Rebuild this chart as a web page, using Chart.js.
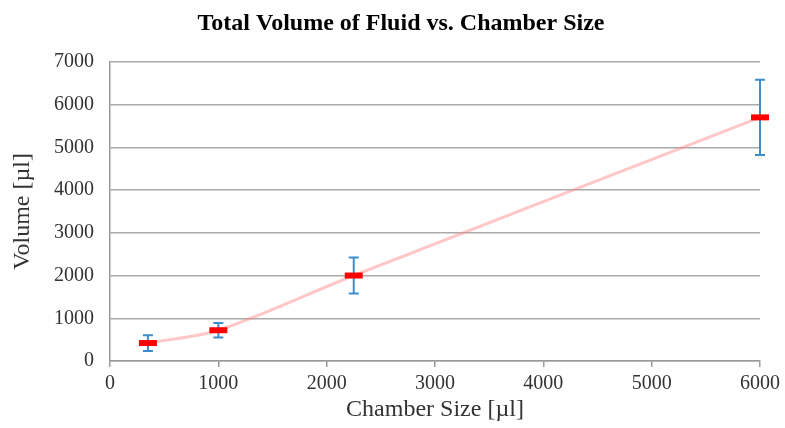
<!DOCTYPE html>
<html><head><meta charset="utf-8">
<script src="https://cdn.jsdelivr.net/npm/chart.js@4"></script>
<style>html,body{margin:0;padding:0;background:#fff}#wrap{width:785px;height:428px}</style>
</head><body><div id="wrap"><canvas id="c"></canvas></div>
<script>
const chamberSizes = [350, 1000, 2250, 6000];
const volumes = [420, 720, 2000, 5700];
const errors = [185, 170, 420, 880];
const xTicks = [0, 1000, 2000, 3000, 4000, 5000, 6000];
const yTicks = [0, 1000, 2000, 3000, 4000, 5000, 6000, 7000];

const errorBars = {
  id: 'errorBars',
  afterDatasetsDraw(chart) {
    const ctx = chart.ctx, xs = chart.scales.x, ys = chart.scales.y;
    ctx.save();
    ctx.strokeStyle = '#3d8ccc';
    ctx.lineWidth = 2;
    chamberSizes.forEach((cx, i) => {
      const px = xs.getPixelForValue(cx);
      const top = ys.getPixelForValue(volumes[i] + errors[i]);
      const bot = ys.getPixelForValue(volumes[i] - errors[i]);
      ctx.beginPath();
      ctx.moveTo(px, top); ctx.lineTo(px, bot);
      ctx.moveTo(px - 5, top); ctx.lineTo(px + 5, top);
      ctx.moveTo(px - 5, bot); ctx.lineTo(px + 5, bot);
      ctx.stroke();
    });
    ctx.restore();
    const meta = chart.getDatasetMeta(0);
    ctx.save();
    ctx.strokeStyle = '#ff0000';
    ctx.lineWidth = 6;
    meta.data.forEach(pt => {
      ctx.beginPath();
      ctx.moveTo(pt.x - 9, pt.y); ctx.lineTo(pt.x + 9, pt.y);
      ctx.stroke();
    });
    ctx.restore();
  }
};

new Chart(document.getElementById('c'), {
  type: 'scatter',
  data: {
    datasets: [{
      data: chamberSizes.map((x, i) => ({x, y: volumes[i]})),
      showLine: true,
      borderColor: 'rgba(255,130,130,0.45)',
      borderWidth: 3,
      tension: 0.3,
      pointRadius: 0,
      pointHoverRadius: 0
    }]
  },
  options: {
    responsive: true,
    maintainAspectRatio: false,
    animation: false,
    layout: {padding: {left: 40, right: 23, top: 0, bottom: 0}},
    plugins: {
      legend: {display: false},
      tooltip: {enabled: false},
      title: {
        display: true,
        text: 'Total Volume of Fluid vs. Chamber Size',
        color: '#000',
        font: {family: 'Liberation Serif', size: 24, weight: 'bold'},
        padding: {top: 9, bottom: 24}
      }
    },
    scales: {
      x: {
        type: 'linear', min: 0, max: 6000,
        afterBuildTicks: s => { s.ticks = xTicks.map(v => ({value: v})); },
        afterFit: s => { s.height = 67; },
        ticks: {color: '#333', font: {family: 'Liberation Serif', size: 20}, padding: 5, maxRotation: 0,
          callback: v => String(v)},
        grid: {drawOnChartArea: false, color: '#999', tickLength: 6, lineWidth: 1.5},
        border: {color: '#999', width: 1.5},
        title: {display: true, text: 'Chamber Size [µl]', color: '#333',
          font: {family: 'Liberation Serif', size: 24}, padding: {top: 3}}
      },
      y: {
        type: 'linear', min: 0, max: 7000,
        afterBuildTicks: s => { s.ticks = yTicks.map(v => ({value: v})); },
        afterFit: s => { s.width = 70; },
        ticks: {color: '#333', font: {family: 'Liberation Serif', size: 20}, padding: 16,
          callback: v => String(v)},
        grid: {color: '#aaa', lineWidth: 1.5, tickLength: 0},
        border: {color: '#999', width: 1.5},
        title: {display: true, text: 'Volume [µl]', color: '#333',
          font: {family: 'Liberation Serif', size: 24}, padding: {top: -32, bottom: 0}}
      }
    }
  },
  plugins: [errorBars]
});
</script></body></html>
